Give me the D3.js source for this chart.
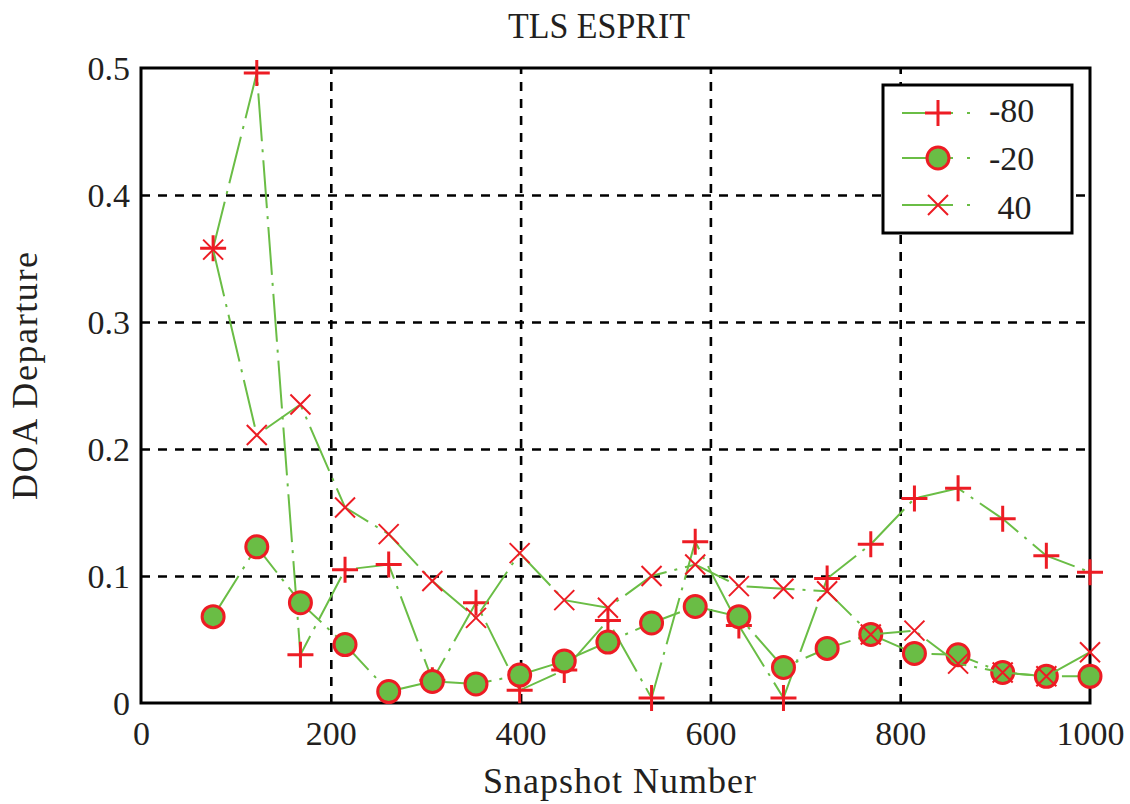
<!DOCTYPE html>
<html><head><meta charset="utf-8">
<script src="https://cdn.jsdelivr.net/npm/d3@7"></script>
<style>
body{margin:0;background:#fff}
svg{display:block}
text{font-family:"Liberation Serif","Times New Roman",serif;fill:#231f20}
</style>
</head><body><svg id="c" width="1130" height="804"></svg>
<script>
const snapshots = [76,122,168,215,261,307,353,399,446,492,538,584,630,677,723,769,815,861,908,954,1000];
const doaMinus80 = [0.358,0.496,0.038,0.105,0.109,0.018,0.079,0.010,0.026,0.065,0.004,0.127,0.061,0.004,0.098,0.125,0.161,0.169,0.145,0.116,0.103];
const doaMinus20 = [0.068,0.123,0.079,0.046,0.009,0.017,0.015,0.022,0.033,0.048,0.063,0.076,0.068,0.028,0.043,0.054,0.039,0.038,0.024,0.021,0.021];
const doa40 = [0.357,0.211,0.235,0.154,0.133,0.096,0.067,0.118,0.081,0.075,0.100,0.109,0.092,0.090,0.088,0.054,0.057,0.031,0.024,0.021,0.040];
const seriesLabels = ["-80","-20"," 40"];
const seriesMarkers = ["plus","circle","cross"];
const xTicks = [0,200,400,600,800,1000];
const yTicks = [0,0.1,0.2,0.3,0.4,0.5];
const yTickLabels = ["0","0.1","0.2","0.3","0.4","0.5"];
const titleText = "TLS ESPRIT";
const xLabel = "Snapshot Number";
const yLabel = "DOA Departure";

const GREEN = "#6abd45", RED = "#ed1c24";
const L = 141, R = 1090, T = 68, B = 703;
const svg = d3.select("#c");
const x = d3.scaleLinear().domain([0,1000]).range([L,R]);
const y = d3.scaleLinear().domain([0,0.5]).range([B,T]);

// grid via axes
const gx = svg.append("g").attr("transform",`translate(0,${B})`)
  .call(d3.axisBottom(x).tickValues(xTicks.filter(v=>v>0&&v<1000)).tickSize(-(B-T)).tickFormat(""));
gx.select(".domain").remove();
gx.selectAll("line").attr("stroke","#000").attr("stroke-width",2.6).attr("stroke-dasharray","9,8");
const gy = svg.append("g").attr("transform",`translate(${L},0)`)
  .call(d3.axisLeft(y).tickValues(yTicks.filter(v=>v>0&&v<0.5)).tickSize(-(R-L)).tickFormat(""));
gy.select(".domain").remove();
gy.selectAll("line").attr("stroke","#000").attr("stroke-width",2.6).attr("stroke-dasharray","9,8");

// tick labels via axes
const ax = svg.append("g").attr("transform",`translate(0,${B})`)
  .call(d3.axisBottom(x).tickValues(xTicks).tickSize(0).tickPadding(0).tickFormat(d3.format("d")));
ax.select(".domain").remove();
ax.selectAll("text").attr("font-size",34).attr("dy",null).attr("y",42).style("font-family",'"Liberation Serif",serif').attr("fill","#231f20");
const ay = svg.append("g").attr("transform",`translate(${L},0)`)
  .call(d3.axisLeft(y).tickValues(yTicks).tickSize(0).tickPadding(0).tickFormat((d,i)=>yTickLabels[i]));
ay.select(".domain").remove();
ay.selectAll("text").attr("font-size",34).attr("dy",null).attr("x",-11).attr("y",11).style("font-family",'"Liberation Serif",serif').attr("fill","#231f20");

// frame
svg.append("rect").attr("x",L).attr("y",T).attr("width",R-L).attr("height",B-T)
  .attr("fill","none").attr("stroke","#000").attr("stroke-width",3);

function drawMarker(g, type, cx, cy){
  if(type==="plus"){
    g.append("path").attr("d",`M${cx-13},${cy}H${cx+13}M${cx},${cy-13}V${cy+13}`)
      .attr("stroke",RED).attr("stroke-width",3).attr("fill","none");
  } else if(type==="circle"){
    g.append("circle").attr("cx",cx).attr("cy",cy).attr("r",11)
      .attr("fill",GREEN).attr("stroke",RED).attr("stroke-width",3);
  } else {
    g.append("path").attr("d",`M${cx-10},${cy-10}L${cx+10},${cy+10}M${cx+10},${cy-10}L${cx-10},${cy+10}`)
      .attr("stroke",RED).attr("stroke-width",2).attr("fill","none");
  }
}

const allSeries = [doaMinus80, doaMinus20, doa40];
const line = d3.line().x((d,i)=>x(snapshots[i])).y(d=>y(d));
allSeries.forEach((vals,si)=>{
  const g = svg.append("g");
  g.append("path").datum(vals).attr("d",line).attr("fill","none")
    .attr("stroke",GREEN).attr("stroke-width",2).attr("stroke-dasharray","48,8,3,8");
  vals.forEach((v,i)=>drawMarker(g, seriesMarkers[si], x(snapshots[i]), y(v)));
});

// legend
const lg = svg.append("g");
lg.append("rect").attr("x",883).attr("y",85).attr("width",189).attr("height",148)
  .attr("fill","#fff").attr("stroke","#000").attr("stroke-width",3);
const legY = [113,158,205];
const legBase = [122,170,219];
seriesLabels.forEach((lab,i)=>{
  lg.append("line").attr("x1",902).attr("x2",970).attr("y1",legY[i]).attr("y2",legY[i])
    .attr("stroke",GREEN).attr("stroke-width",2).attr("stroke-dasharray","51,14,3,14");
  drawMarker(lg, seriesMarkers[i], 938, legY[i]);
  lg.append("text").attr("x",989).attr("y",legBase[i]).attr("font-size",34)
    .attr("xml:space","preserve").style("white-space","pre").text(lab);
});

// title & labels
svg.append("text").attr("x",599).attr("y",38).attr("text-anchor","middle").attr("font-size",36)
  .attr("textLength",182).attr("lengthAdjust","spacingAndGlyphs").text(titleText);
svg.append("text").attr("x",619.5).attr("y",793).attr("text-anchor","middle").attr("font-size",36)
  .attr("textLength",273).attr("lengthAdjust","spacing").text(xLabel);
svg.append("text").attr("transform","translate(37,376) rotate(-90)").attr("text-anchor","middle").attr("font-size",36)
  .attr("textLength",248).attr("lengthAdjust","spacing").text(yLabel);
</script>
</body></html>
